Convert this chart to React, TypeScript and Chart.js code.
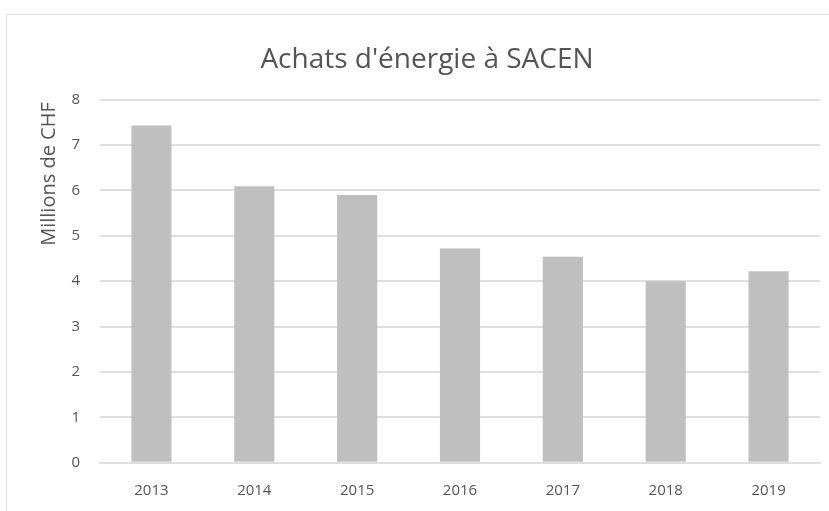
import React, { useEffect, useRef } from "react";
import { Chart, registerables } from "chart.js";

Chart.register(...registerables);

const categories: string[] = ["2013", "2014", "2015", "2016", "2017", "2018", "2019"];
const purchases: number[] = [7.43, 6.09, 5.9, 4.72, 4.54, 4.0, 4.22];
const yTicks: number[] = [0, 1, 2, 3, 4, 5, 6, 7, 8];
const titleText = "Achats d'énergie à SACEN";
const yAxisLabel = "Millions de CHF";

const FONT = "'Open Sans', 'DejaVu Sans', sans-serif";
const TEXT = "#555555";
const GRID = "#dedede";

const yTitlePlugin = {
  id: "yTitlePlugin",
  afterDraw(chart: any) {
    const { ctx, chartArea } = chart;
    const cy = chartArea.top + (chartArea.bottom - chartArea.top) * 0.205;
    ctx.save();
    ctx.translate(49, cy);
    ctx.rotate(-Math.PI / 2);
    ctx.font = `20px ${FONT}`;
    ctx.fillStyle = TEXT;
    ctx.textAlign = "center";
    ctx.textBaseline = "middle";
    ctx.fillText(yAxisLabel, 0, 0);
    ctx.restore();
  },
};

export default function App() {
  const ref = useRef<HTMLCanvasElement | null>(null);
  useEffect(() => {
    if (!ref.current) return;
    const chart = new Chart(ref.current, {
      type: "bar",
      data: {
        labels: categories,
        datasets: [
          {
            data: purchases,
            backgroundColor: "#bfbfbf",
            borderWidth: 0,
            categoryPercentage: 1,
            barPercentage: 0.39,
          },
        ],
      },
      options: {
        animation: false,
        responsive: false,
        maintainAspectRatio: false,
        layout: { padding: { left: 34, right: 9, top: 15, bottom: 0 } },
        plugins: {
          legend: { display: false },
          tooltip: { enabled: false },
          title: {
            display: true,
            text: titleText,
            color: TEXT,
            font: { family: FONT, size: 28, weight: "normal" },
            padding: { top: 28, bottom: 23 },
          },
        },
        scales: {
          x: {
            grid: { display: false, drawTicks: false },
            border: { display: true, color: GRID, width: 2 },
            ticks: { color: TEXT, font: { family: FONT, size: 15 }, padding: 19 },
            afterFit(scale: any) {
              scale.height = 48.3;
            },
          },
          y: {
            min: 0,
            max: 8,
            afterBuildTicks(scale: any) {
              scale.ticks = yTicks.map((v) => ({ value: v }));
            },
            grid: { color: GRID, lineWidth: 2, drawTicks: false },
            border: { display: false },
            ticks: { color: TEXT, font: { family: FONT, size: 15 }, padding: 20 },
            afterFit(scale: any) {
              scale.width = 66;
            },
          },
        },
      },
      plugins: [yTitlePlugin],
    });
    return () => chart.destroy();
  }, []);
  return (
    <div style={{ position: "fixed", left: 0, top: 0, width: 829, height: 511, background: "#fff" }}>
      <div
        style={{
          position: "absolute",
          left: 6,
          top: 14,
          width: 823,
          height: 497,
          borderTop: "1px solid #e0e0e0",
          borderLeft: "1px solid #e0e0e0",
        }}
      />
      <canvas ref={ref} width={829} height={511} style={{ position: "absolute", left: 0, top: 0 }} />
    </div>
  );
}
